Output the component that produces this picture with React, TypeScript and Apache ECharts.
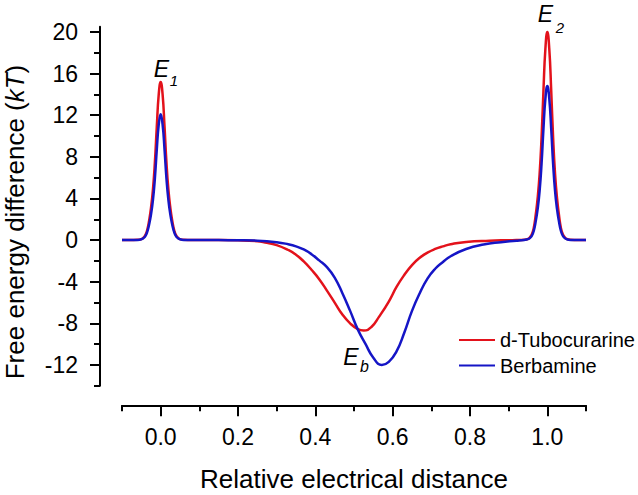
import React, { useEffect, useRef } from "react";
import * as echarts from "echarts";

const FONT = "'Liberation Sans', Arial, Helvetica, sans-serif";

const xMajorTicks = [0, 0.2, 0.4, 0.6, 0.8, 1.0];
const xMinorTicks = [-0.1, 0.1, 0.3, 0.5, 0.7, 0.9, 1.1];
const yMajorTicks = [-12, -8, -4, 0, 4, 8, 12, 16, 20];
const yMinorTicks = [-14, -10, -6, -2, 2, 6, 10, 14, 18];

const seriesNames = ["d-Tubocurarine", "Berbamine"];
const seriesColors = ["#e3121b", "#1515c6"];

const tubocurarine: [number, number][] = [
  [-0.1, 0], [-0.08, 0], [-0.06, 0.03], [-0.05, 0.1], [-0.045, 0.22], [-0.04, 0.45], [-0.035, 0.95],
  [-0.03, 1.85], [-0.025, 3.1], [-0.02, 4.85], [-0.015, 7.45], [-0.01, 10.9], [-0.005, 14.0],
  [0, 15.2], [0.005, 14.0], [0.01, 10.9], [0.015, 7.45], [0.02, 4.85], [0.025, 3.1],
  [0.03, 1.85], [0.035, 0.95], [0.04, 0.45], [0.045, 0.22], [0.05, 0.1], [0.06, 0.03], [0.08, 0],
  [0.15, 0], [0.2, -0.02], [0.25, -0.1], [0.27, -0.22], [0.3, -0.48], [0.33, -0.95],
  [0.35, -1.4], [0.37, -2.05], [0.39, -2.85], [0.41, -3.75], [0.43, -4.85], [0.45, -6.0],
  [0.47, -7.15], [0.49, -8.0], [0.51, -8.55], [0.525, -8.68], [0.545, -8.35], [0.565, -7.35],
  [0.59, -5.9], [0.61, -4.5], [0.63, -3.35], [0.65, -2.4], [0.67, -1.7], [0.69, -1.2],
  [0.71, -0.85], [0.73, -0.6], [0.75, -0.4], [0.79, -0.17], [0.85, -0.05], [0.9, -0.01],
  [0.92, 0], [0.94, 0.03], [0.95, 0.12], [0.955, 0.28], [0.96, 0.56], [0.965, 1.2], [0.97, 2.45],
  [0.975, 4.05], [0.98, 6.35], [0.985, 9.8], [0.99, 14.4], [0.995, 18.4], [1.0, 20.0],
  [1.005, 18.4], [1.01, 14.4], [1.015, 9.8], [1.02, 6.35], [1.025, 4.05], [1.03, 2.45],
  [1.035, 1.2], [1.04, 0.56], [1.045, 0.28], [1.05, 0.12], [1.06, 0.03], [1.08, 0], [1.1, 0],
];

const berbamine: [number, number][] = [
  [-0.1, 0], [-0.08, 0], [-0.06, 0.02], [-0.05, 0.08], [-0.045, 0.18], [-0.04, 0.36], [-0.035, 0.76],
  [-0.03, 1.48], [-0.025, 2.45], [-0.02, 3.85], [-0.015, 5.9], [-0.01, 8.7], [-0.005, 11.1],
  [0, 12.1], [0.005, 11.1], [0.01, 8.7], [0.015, 5.9], [0.02, 3.85], [0.025, 2.45],
  [0.03, 1.48], [0.035, 0.76], [0.04, 0.36], [0.045, 0.18], [0.05, 0.08], [0.06, 0.02], [0.08, 0],
  [0.15, 0], [0.2, -0.01], [0.25, -0.05], [0.3, -0.2], [0.33, -0.4], [0.35, -0.6],
  [0.37, -0.9], [0.39, -1.35], [0.41, -1.95], [0.43, -2.6], [0.45, -3.6], [0.47, -5.1],
  [0.49, -6.8], [0.51, -8.6], [0.53, -10.0], [0.55, -11.3], [0.572, -12.0], [0.59, -11.7],
  [0.61, -10.7], [0.63, -8.9], [0.65, -6.8], [0.67, -5.1], [0.69, -3.7], [0.71, -2.75],
  [0.73, -2.1], [0.75, -1.55], [0.79, -0.85], [0.835, -0.42], [0.88, -0.2], [0.92, -0.06],
  [0.94, 0.02], [0.95, 0.09], [0.955, 0.2], [0.96, 0.42], [0.965, 0.9], [0.97, 1.8], [0.975, 3.0],
  [0.98, 4.7], [0.985, 7.3], [0.99, 10.7], [0.995, 13.6], [1.0, 14.8], [1.005, 13.6],
  [1.01, 10.7], [1.015, 7.3], [1.02, 4.7], [1.025, 3.0], [1.03, 1.8], [1.035, 0.9],
  [1.04, 0.42], [1.045, 0.2], [1.05, 0.09], [1.06, 0.02], [1.08, 0], [1.1, 0],
];

const axisStyle = { color: "#000", width: 2 };

function App() {
  const ref = useRef<HTMLDivElement>(null);
  useEffect(() => {
    if (!ref.current) return;
    const chart = echarts.init(ref.current, undefined, { renderer: "svg" });
    const labelText = (text: string, x: number, y: number, size: number) => ({
      type: "text",
      x,
      y,
      style: {
        text,
        fontSize: size,
        fontStyle: "italic",
        fontFamily: FONT,
        fill: "#000",
        align: "center",
        verticalAlign: "middle",
        textAlign: "center",
        textVerticalAlign: "middle",
      },
    });
    const option: any = {
      animation: false,
      backgroundColor: "#ffffff",
      grid: { left: 122, right: 52, top: 26.8, bottom: 109.2, containLabel: false },
      xAxis: [
        {
          type: "value",
          min: -0.1,
          max: 1.1,
          position: "bottom",
          offset: 19.5,
          axisLine: { show: true, onZero: false, lineStyle: axisStyle },
          axisTick: { show: true, customValues: xMajorTicks, length: 11, lineStyle: axisStyle },
          axisLabel: {
            show: true,
            customValues: xMajorTicks,
            formatter: (v: number) => v.toFixed(1),
            margin: 20,
            fontSize: 23,
            color: "#000",
            fontFamily: FONT,
          },
          splitLine: { show: false },
        },
        {
          type: "value",
          min: -0.1,
          max: 1.1,
          position: "bottom",
          offset: 19.5,
          axisLine: { show: false, onZero: false },
          axisTick: { show: true, customValues: xMinorTicks, length: 6, lineStyle: axisStyle },
          axisLabel: { show: false },
          splitLine: { show: false },
        },
      ],
      yAxis: [
        {
          type: "value",
          min: -14,
          max: 20.5,
          position: "left",
          offset: 22,
          axisLine: { show: true, onZero: false, lineStyle: axisStyle },
          axisTick: { show: true, customValues: yMajorTicks, length: 10, lineStyle: axisStyle },
          axisLabel: {
            show: true,
            customValues: yMajorTicks,
            margin: 22,
            fontSize: 23,
            color: "#000",
            fontFamily: FONT,
          },
          splitLine: { show: false },
        },
        {
          type: "value",
          min: -14,
          max: 20.5,
          position: "left",
          offset: 22,
          axisLine: { show: false, onZero: false },
          axisTick: { show: true, customValues: yMinorTicks, length: 6, lineStyle: axisStyle },
          axisLabel: { show: false },
          splitLine: { show: false },
        },
      ],
      legend: {
        orient: "vertical",
        left: 454,
        top: 325,
        icon: "rect",
        itemWidth: 36,
        itemHeight: 2,
        itemGap: 5.5,
        data: seriesNames,
        textStyle: { fontSize: 20, fontFamily: FONT, color: "#000", lineHeight: 20 },
      },
      series: [
        {
          name: seriesNames[0],
          type: "line",
          xAxisIndex: 0,
          yAxisIndex: 0,
          data: tubocurarine,
          showSymbol: false,
          symbol: "none",
          smooth: 0.5,
          lineStyle: { color: seriesColors[0], width: 2.5 },
          itemStyle: { color: seriesColors[0] },
          z: 2,
        },
        {
          name: seriesNames[1],
          type: "line",
          xAxisIndex: 0,
          yAxisIndex: 0,
          data: berbamine,
          showSymbol: false,
          symbol: "none",
          smooth: 0.5,
          lineStyle: { color: seriesColors[1], width: 2.5 },
          itemStyle: { color: seriesColors[1] },
          z: 3,
        },
      ],
      graphic: [
        labelText("E", 161.5, 68.5, 23),
        labelText("1", 174, 80, 15),
        labelText("E", 545.5, 14, 23),
        labelText("2", 560, 27, 15),
        labelText("E", 351, 356.5, 23),
        labelText("b", 364.5, 366, 16),
        {
          type: "text",
          x: 354,
          y: 479,
          style: {
            text: "Relative electrical distance",
            fontSize: 26,
            fontFamily: FONT,
            fill: "#000",
            align: "center",
            verticalAlign: "middle",
            textAlign: "center",
            textVerticalAlign: "middle",
          },
        },
        {
          type: "text",
          x: 15,
          y: 222,
          rotation: Math.PI / 2,
          style: {
            text: "Free energy difference ({i|kT})",
            fontSize: 26,
            fontFamily: FONT,
            fill: "#000",
            align: "center",
            verticalAlign: "middle",
            textAlign: "center",
            textVerticalAlign: "middle",
            rich: {
              i: { fontSize: 26, fontFamily: FONT, fontStyle: "italic", fill: "#000" },
            },
          },
        },
      ],
    };
    chart.setOption(option);
    return () => chart.dispose();
  }, []);
  return (
    <div
      ref={ref}
      style={{ position: "fixed", left: 0, top: 0, width: 638, height: 495, background: "#fff" }}
    />
  );
}

export default App;
